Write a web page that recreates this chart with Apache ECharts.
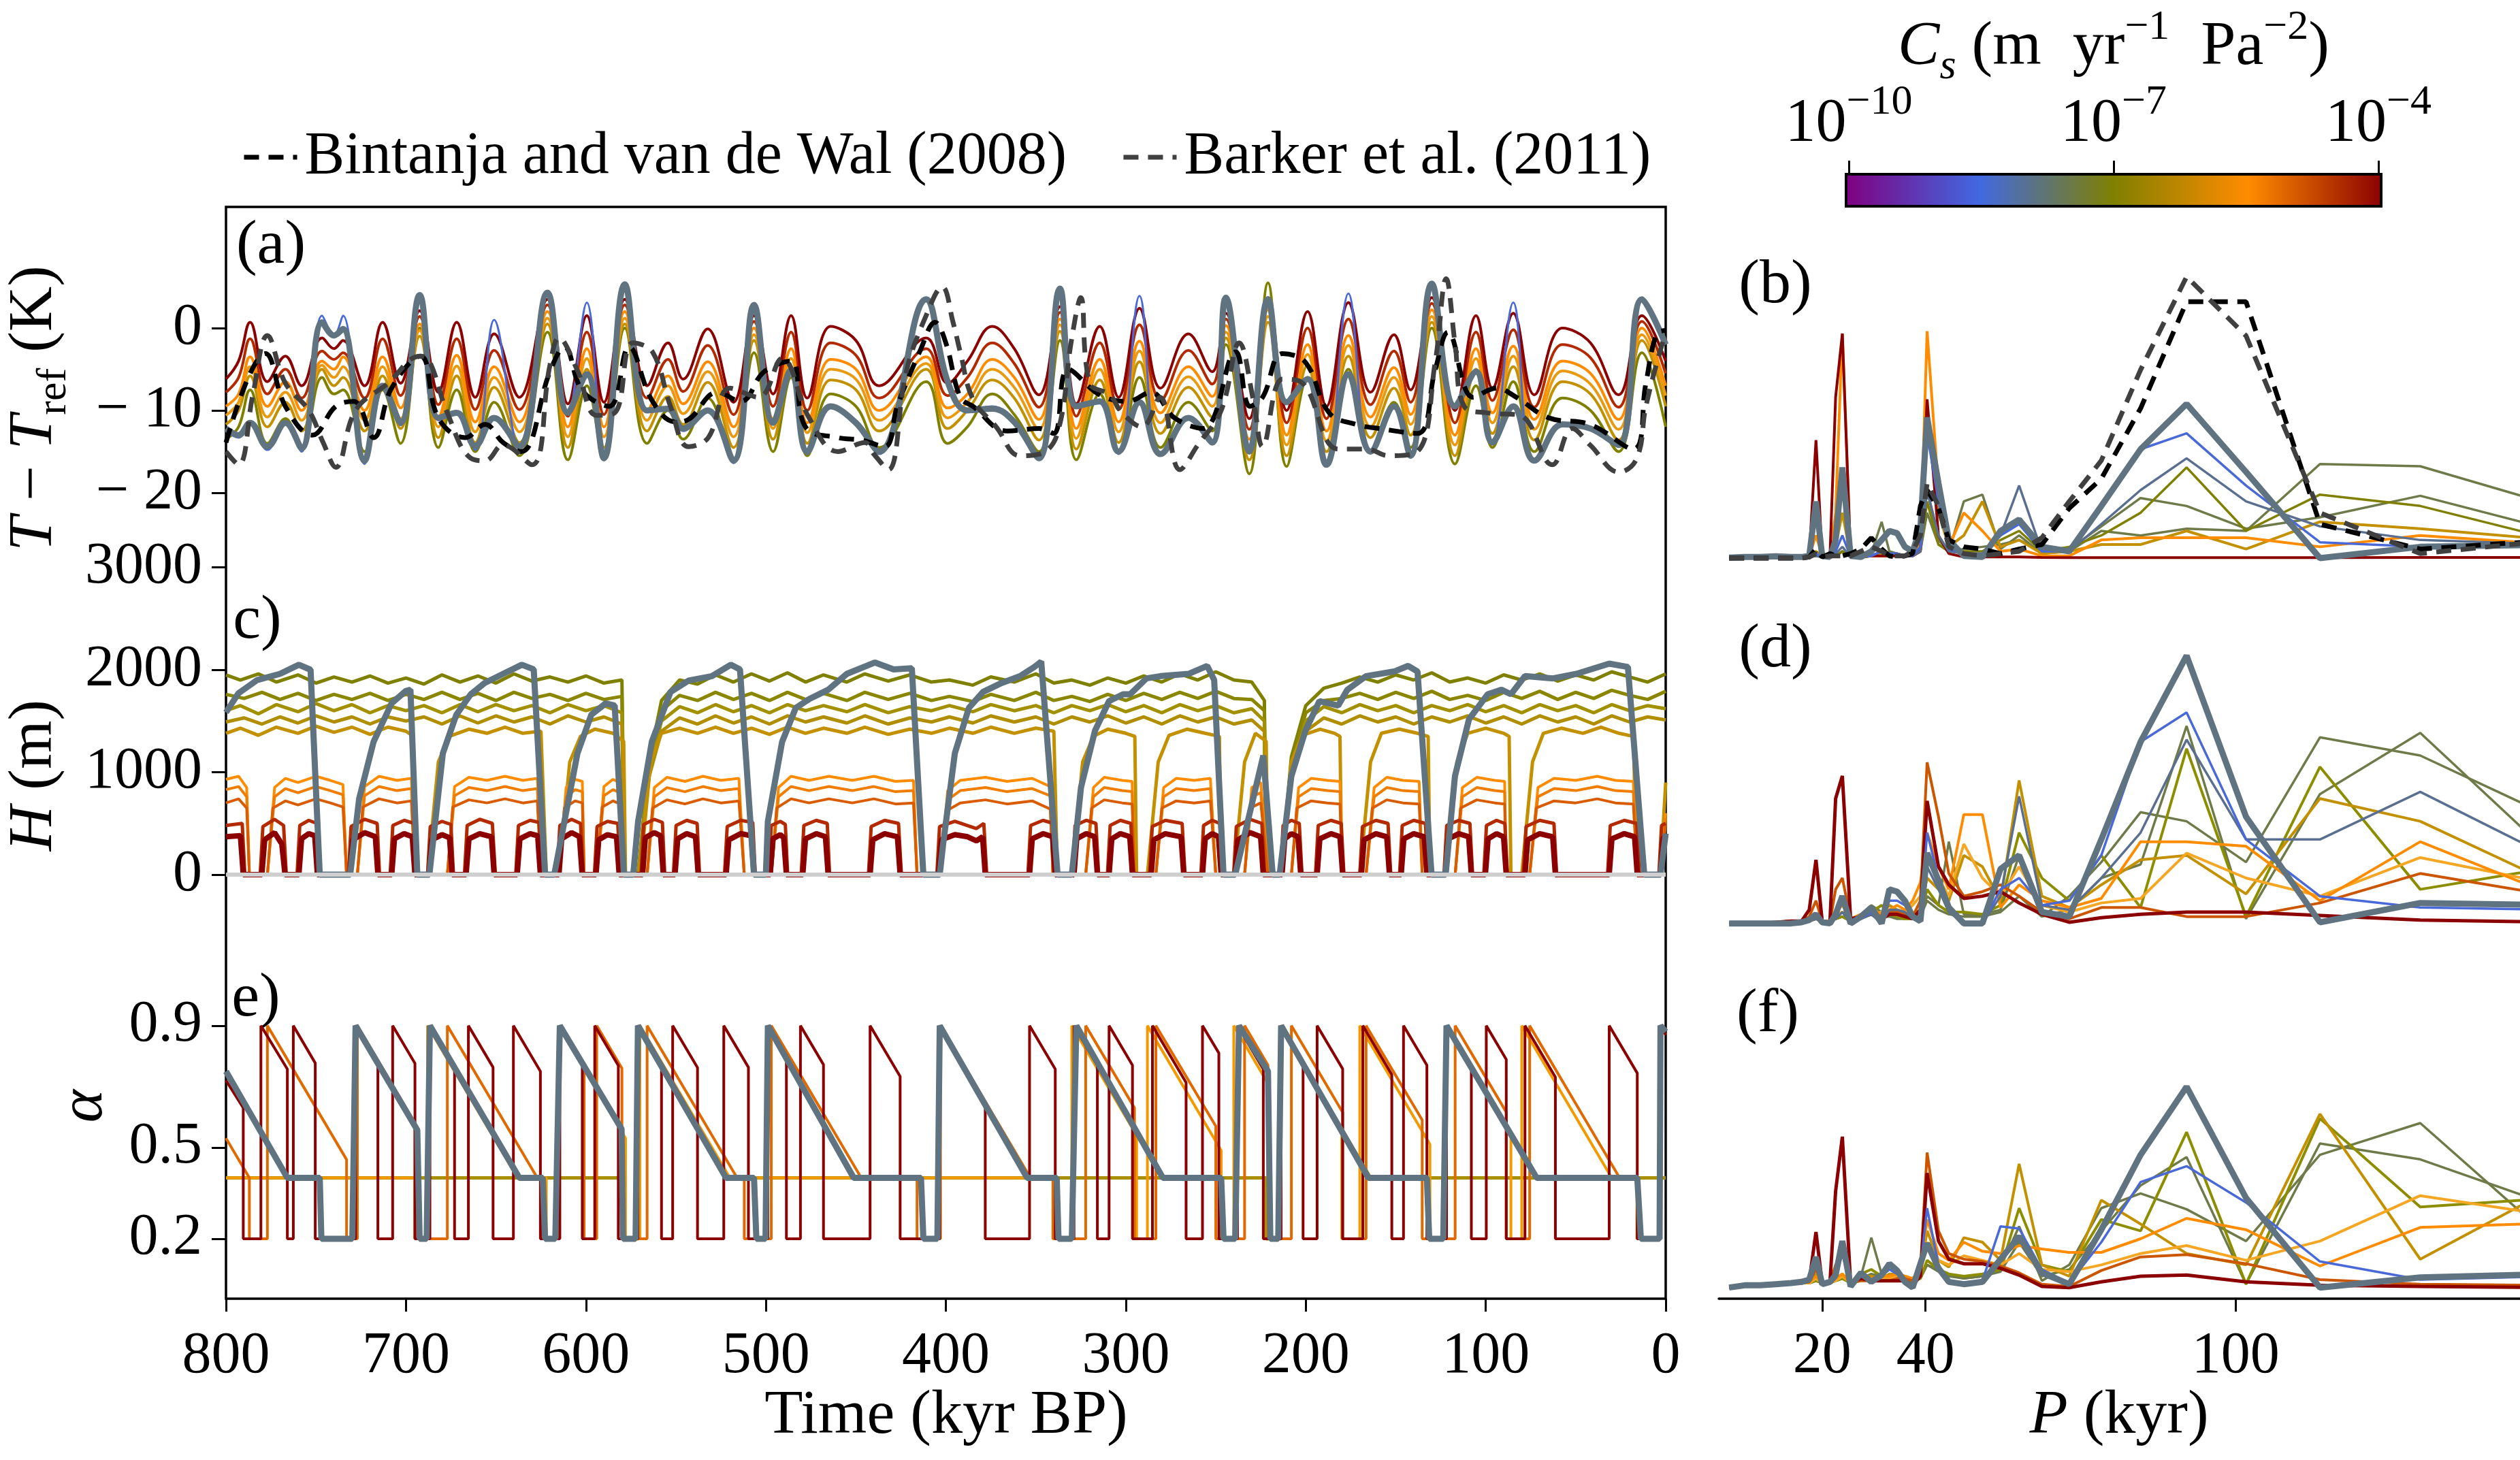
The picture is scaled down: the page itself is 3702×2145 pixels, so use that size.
<!DOCTYPE html>
<html>
<head>
<meta charset="utf-8">
<title>Ice sheet model ensemble</title>
<script src="https://cdn.jsdelivr.net/npm/echarts@6/dist/echarts.min.js"></script>
<style>
  html, body { margin: 0; padding: 0; background: #fff; }
  #chart { width: 3702px; height: 2145px; }
</style>
</head>
<body>
<div id="chart"></div>
<script>
// ---------- panel (a): temperature anomaly, kyr BP ----------
var timeA = [800,793,786.6,777,767,758,746.6,740,735,723, 713,703,692.4,682,671.8,661.5,651,637,621.4,610,
  599.5,590,578.4,566,554.4,546,532.4,518,506.6,496, 486,477,464,450,437,411,399,388,374.2,362,
  348.3,336.6,327.5,314.5,304,292.4,280.7,265.2,252,244.4, 231.4,221,210.6,199,188.5,176.3,164,151,141.8,130,
  117.1,105.4,96.3,84.7,73,57.4,41.8,26.2,13.2,0];
var tempDarkred = [-6.2,-4,0.7,-6.5,-3.4,-7,-1.2,-2.5,-1.5,-7, 0.7,-6.7,2.1,-7.8,0.7,-8.4,-0.7,-8.4,3.5,-9.2,
  1.5,-9,3.5,-7,-1.8,-6.2,-0.1,-9,1.5,-8, 1.5,-8.5,0.2,-1.5,-7,-1.2,-6.7,-4,0.2,-2.5,
  -8.1,2.6,-9.2,0.2,-8.4,2.4,-7.3,-0.7,-5.3,1.8, -11,3.7,-10,2,-9.5,3.1,-7.8,-0.8,-7.5,3.7,
  -10,1.5,-7.3,1.8,-8.1,0,-1.8,-8.1,1.5,-4];
var tempRed = [-7.8,-6,-1.3,-8,-5,-8.5,-2.8,-3.8,-3,-8.5, -1.3,-8.2,1.4,-9.3,-1.3,-9.9,-2.7,-9.9,2.8,-10.7,
  -0.5,-10.5,2.8,-8.5,-3.8,-7.7,-2.1,-10.5,0.8,-9.5, -0.5,-10,-1.8,-3.3,-8.5,-2.5,-8.2,-6,-1.8,-4.3,
  -9.6,1.9,-10.7,-1.8,-9.9,0.4,-8.8,-2.7,-6.8,1.1, -12.3,3,-11.5,0,-11,1.1,-9.3,-2.8,-9,3,
  -11.5,-0.5,-8.8,-0.2,-9.6,-2,-3.6,-9.6,0.8,-5.5];
var tempOrange = [-9.5,-8,-3.5,-9.5,-6.5,-10,-4,-5,-3.5,-10, -3.5,-9.7,0.5,-10.8,-3.3,-11.4,-4.7,-11.4,2,-12,
  -2.5,-12,2,-10,-5.8,-9.2,-4.1,-12,0,-11, -2.5,-11.5,-3.8,-5,-10,-3.5,-9.7,-8,-3.8,-6,
  -11.1,1.1,-12.2,-3.8,-11.4,-1.6,-10.3,-4.7,-8.3,0.3, -13.5,2.2,-13,-2,-12.5,-0.9,-10.8,-4.8,-10.5,2.2,
  -13,-2.5,-10.3,-2.2,-11.1,-4,-5.5,-11.1,0,-7];
var tempLightOrange = [-10.6,-9,-4.7,-10.8,-7.8,-11.2,-4.5,-6,-4.7,-11.2, -4.7,-11,-0.3,-12,-4.6,-12.6,-6,-12.6,1.2,-13.2,
  -3.7,-13.2,1.2,-11.2,-7,-10.4,-5.3,-13.2,-0.8,-12.2, -3.7,-12.7,-5,-6.2,-11.2,-4.3,-10.9,-9,-5,-7.2,
  -12.3,0.4,-13.4,-5,-12.6,-2.8,-11.5,-5.9,-9.5,-0.5, -14.7,1.4,-14.2,-3.2,-13.7,-2.1,-12,-6,-11.7,1.4,
  -14.2,-3.7,-11.5,-3.4,-12.3,-5.2,-6.8,-12.3,-0.8,-8.2];
var tempGold = [-11.7,-10,-5.8,-12,-9,-12.5,-5,-7,-6,-12.5, -5.8,-12.2,-1,-13.3,-5.8,-13.9,-7.2,-13.9,0.5,-14.5,
  -5,-14.5,0.5,-12.5,-8.3,-11.7,-6.6,-14.5,-1.5,-13.5, -5,-14,-6.3,-7.5,-12.5,-5,-12.2,-10,-6.3,-8.5,
  -13.6,-0.4,-14.7,-6.3,-13.9,-4.1,-12.8,-7.2,-10.8,-1.2, -16,0.7,-15.5,-4.5,-15,-3.4,-13.3,-7.3,-13,0.7,
  -15.5,-5,-12.8,-4.7,-13.6,-6.5,-8,-13.6,-1.5,-9.5];
var tempOlive = [-13.5,-12,-7.5,-14,-11,-14.5,-6,-8,-7.5,-15, -7.5,-14,0,-14.5,-7.5,-15,-9,-15.5,-0.5,-16,
  -7,-16,0,-14,-10,-13.5,-8.5,-16,-3,-15, -6,-15.5,-8,-9.5,-14.5,-6.5,-14,-12,-8,-10.5,
  -15,-1.5,-16,-8,-15,-6,-14.5,-9,-12.5,-2, -17.7,5.5,-16.8,-6,-16.5,-5,-15,-9,-14.5,0,
  -16.5,-7,-14.5,-6.5,-15,-8.5,-10,-15,-3,-12];
var tempBlue = [-12.5,-13.3,-11.5,-14.8,-11.5,-15,1.5,-0.9,1.5,-16.5, -7,-11.8,4.2,-11.2,-10.3,-14.8,1,-14.6,4.4,-10.5,
  3.1,-16,5.3,-10,-9.8,-12.5,-10,-16.4,2.9,-11.7, -5,-15.3,-9.5,-11.5,-15.3,3.6,-6.5,-10,-9.5,-11.4,
  -16,4.9,-9.5,-8.9,-15.3,3.9,-15.5,-10.9,-14,3.8, -15.2,3.5,-9,-6.2,-16.8,4.2,-15.2,-9.5,-15.7,5.5,
  -9.5,-5.3,-14,3.1,-16.3,-11.7,-12.2,-14.4,3.6,-2];
var tempGrey = [-12.2,-13,-11.5,-14.4,-11.5,-14.6,0.7,-0.9,-0.1,-16.1, -7,-11.5,4,-10.9,-10.3,-14.3,-10.9,-14.4,4.3,-10.3,
  -5.6,-15.8,5.3,-10,-9.8,-12.2,-10,-16.1,2.8,-11.5, -5.1,-15,-9.5,-11.5,-15,3.5,-6.5,-10,-9.8,-11.4,
  -15.8,4.8,-9.5,-8.9,-15,-9,-15.3,-10.9,-13.9,3.7, -15,3.5,-9,-6.2,-16.6,-5.6,-15,-9.5,-15.5,5.4,
  -9.5,-5.3,-13.9,-9.5,-16.1,-11.7,-12.2,-14.2,3.5,-2];

var bwTime = [800,778,767,752,739,729,718,708,692,682, 667,656,646,636,620,612,602,587,576,563,
  550,543,527,514,501,486,478,460,447,434, 427,414,406,400,392,385,366,348,340,332,
  314.5,299,286,273,257,239,231,224,213,200, 187,172,159,138,128,121,107,94,83,65, 42,18,11,5,0];
var bwTemp = [-13.9,-3.1,-9.5,-13,-9.5,-8.9,-13.3,-7.3,-3.4,-10.9, -13.3,-11.7,-13.9,-15,-5.3,-2.3,-7.6,-9.5,-2.3,-8.9,
  -11.4,-11.1,-7.8,-8.9,-5.3,-4,-12,-13.3,-13.6,-14.4, -9.5,-2.6,0.7,-1.8,-8.4,-9.5,-12.5,-12.2,-12.8,-5,
  -8.1,-8.9,-7.8,-10.9,-12.2,-2.9,-9.5,-8.4,-3.1,-4.2, -10.3,-11.7,-12.2,-12.8,-5,-0.5,-8.4,-7.3,-8.4,-10.9,
  -11.7,-14.7,-6.7,-0.7,-0.3];
var barkerTime = [800,793,785,777,767,754,746,739,728,710, 692,687,677,664,656,646,630,620,615,605,
  594,584,574,563,553,543,532,520,504,491, 476,460,445,440,432,422,411,402,396,392,
  385,372,359,348,338,330,325,320,309,302, 291,281,270,260,247,237,229,224,213,203,
  182,166,154,138,128,122,117,112,99,81, 63,52,42,26,16,11,1,0];
var barkerTemp = [-15,-16.6,-8,-0.9,-6.7,-10,-13.9,-16.9,-10,-6.7, -3.4,-4,-10.3,-15.8,-16.1,-14.2,-16.6,-4.5,-1.2,-5,
  -10.6,-10.3,-1.8,-2.9,-9.5,-14.4,-13.3,-7.3,-8.4,-3.7, -10.9,-15,-13.9,-15.3,-17.2,-5.3,1.5,5,0.7,-2.9,
  -8.6,-12,-15.5,-15.3,-12.8,-1.2,3.7,-6.7,-8.1,-10.3, -12,-8.4,-17.2,-14.2,-10,-1.8,-8.9,-14.4,-6.2,-6.5,
  -14.7,-14.7,-15.5,-15,-4,6,-2,-9.5,-10.3,-10.6, -16.6,-12.2,-14.2,-17.5,-15.8,-9.5,-1.2,-1];

// ---------- panel (c): ice thickness [kyr BP, m] ----------
var iceDarkred = [[800,370],[792,380],[790.4,0],[780.1,0],[778.5,340],[773,410],[769,300],[767.2,0],
  [759.5,0],[758,350],[754,400],[750.7,380],[749.2,0],[731.1,0],[729.5,340],[723,410],[717,370],[715.6,0],
  [707.9,0],[706.4,350],[701,400],[696.5,370],[695,0],[687.2,0],[685.7,340],[680,390],[675.8,360],[674.3,0],
  [666.6,0],[665,350],[659,400],[652.5,370],[651,0],[638.2,0],[636.7,350],[631,400],[626.8,380],[625.3,0],
  [615,0],[613.5,350],[608,410],[603.6,370],[602.1,0],[594.4,0],[592.9,340],[588,390],[583,370],[581.5,0],
  [568.5,0],[567,360],[562,410],[558.5,380],[557,0],[550.5,0],[549,350],[544,400],[539.1,370],[537.6,0],
  [522.1,0],[520.6,340],[514,400],[508.1,380],[506.6,0],[497.6,0],[496.1,350],[492,390],[490.1,360],[488.6,0],
  [479.5,0],[478,350],[472,400],[466.9,370],[465.4,0],[442.1,0],[440.6,340],[434,400],[426.9,370],[425.4,0],
  [404,0],[402.5,340],[395,390],[388,370],[383,330],[379.6,370],[378.1,0],
  [353.5,0],[352,350],[346,400],[340.7,370],[339.2,0],[328.8,0],[327.3,350],[322,400],[317.3,370],[315.8,0],
  [309.3,0],[307.8,350],[303,400],[297.8,370],[296.3,0],[285.9,0],[284.4,340],[278,400],[269.3,370],[267.8,0],
  [257.4,0],[255.9,350],[252,400],[248.5,370],[247,0],[239.2,0],[237.7,340],[231,410],[225.1,370],[223.6,0],
  [213.2,0],[211.7,350],[208,400],[204.3,370],[202.8,0],[193.7,0],[192.2,350],[186,400],[181,370],[179.5,0],
  [169.1,0],[167.6,340],[161,400],[155,370],[153.5,0],[147,0],[145.5,350],[140,400],[134.2,370],[132.7,0],
  [122.3,0],[120.8,350],[115,400],[109.5,370],[108,0],[100.2,0],[98.7,350],[94,400],[90.1,370],[88.6,0],
  [78.2,0],[76.7,340],[70,400],[62.8,370],[61.3,0],[31.4,0],[29.9,350],[23,400],[17.3,370],[15.8,0],
  [2.9,0],[1.4,350],[0,380]];
var iceRed = [[800,480],[791,500],[789.5,0],[781,0],[779.5,470],[773,540],[768,480],[766.5,0],
  [760.5,0],[759,480],[754,530],[749.5,500],[748.2,0],[732,0],[730.5,470],[723,540],[716,500],[714.7,0],
  [708.8,0],[707.3,480],[701,530],[695.5,500],[694.2,0],[688,0],[686.5,470],[680,520],[675,490],[673.6,0],
  [667.5,0],[666,480],[659,540],[652,500],[650.3,0],[639,0],[637.5,480],[631,530],[626,510],[624.6,0],
  [616,0],[614.5,480],[608,540],[603,500],[601.5,0],[595.3,0],[593.8,470],[588,520],[582.3,500],[580.8,0],
  [569.4,0],[567.9,490],[562,540],[557.5,510],[556.2,0],[551.4,0],[549.9,480],[544,530],[538.2,500],[536.9,0],
  [523,0],[521.5,470],[514,530],[507.3,510],[505.9,0],[498.5,0],[497,480],[492,520],[489.2,490],[487.9,0],
  [480.4,0],[478.9,480],[472,530],[465.9,500],[464.6,0],[443,0],[441.5,470],[434,530],[426.3,500],[424.7,0],
  [405,0],[403.5,470],[395,520],[383,450],[378.9,500],[377.3,0],
  [354.4,0],[352.9,480],[346,530],[340.2,500],[338.5,0],[329.7,0],[328.2,480],[322,530],[316.6,500],[315.1,0],
  [310.2,0],[308.7,480],[303,530],[297.2,500],[295.6,0],[286.8,0],[285.3,470],[278,530],[268.7,500],[267.1,0],
  [258.3,0],[256.8,480],[252,530],[247.8,500],[246.3,0],[240.1,0],[238.6,470],[231,540],[224.4,500],[222.9,0],
  [214.1,0],[212.6,480],[208,530],[203.6,500],[202.1,0],[194.6,0],[193.1,480],[186,530],[180.3,500],[178.8,0],
  [170,0],[168.5,470],[161,530],[154.3,500],[152.8,0],[147.9,0],[146.4,480],[140,530],[133.5,500],[132,0],
  [123.2,0],[121.7,480],[115,530],[108.8,500],[107.3,0],[101.1,0],[99.6,480],[94,530],[89.4,500],[87.9,0],
  [79.1,0],[77.6,470],[70,530],[62.1,500],[60.6,0],[32.3,0],[30.8,480],[23,530],[16.1,500],[14.6,0],
  [3.8,0],[2.3,480],[0,500]];
var iceDarkorange = [[800,700],[793,740],[788.5,650],[787,0],[777,0],[774,650],[767,720],[760,680],[750,740],[742,700],[735,660],[733,0],
  [727,0],[724,660],[715,740],[705,700],[697,720],[695,0],[677,0],[674,660],[665,730],[655,700],[645,740],[635,700],[627,720],[625,0],
  [615,0],[612,650],[606,720],[602,700],[601,0],[594,0],[591,660],[585,720],[581,690],[580,0],
  [566,0],[563,650],[555,730],[545,690],[535,740],[525,700],[515,720],[512,0],
  [497,0],[494,650],[486,740],[476,700],[465,740],[452,700],[440,740],[428,690],[418,700],[416,0],
  [403,0],[400,620],[392,700],[378,730],[366,690],[352,720],[342,640],[340.5,0],
  [322.3,0],[319,650],[312,730],[302,700],[296.5,690],[295.2,0],[283.3,0],[280,650],[272,720],[262,700],[253,720],[250,0],
  [234,0],[231,650],[225,700],[221,0],[208,0],[205,650],[197,720],[188,700],[181,690],[179.5,0],
  [166.5,0],[163,650],[155,730],[146,700],[137,690],[135.3,0],[117,0],[114,650],[105,730],[95,700],[89.5,690],[88.6,0],
  [75.6,0],[72,650],[62,720],[50,700],[38,740],[28,700],[18,690],[15.8,0],[2.9,0],[0,500]];
var iceOrange2 = [[800,830],[793,860],[788.5,760],[787,0],[777,0],[773,760],[767,840],[760,800],[750,860],[742,820],[735,780],[733,0],
  [727,0],[723,770],[715,860],[705,820],[697,840],[695,0],[677,0],[673,770],[665,850],[655,820],[645,860],[635,820],[627,840],[625,0],
  [615,0],[611,760],[606,830],[602,810],[601,0],[594,0],[590,770],[585,830],[581,800],[580,0],
  [566,0],[562,760],[555,850],[545,810],[535,860],[525,820],[515,840],[512,0],
  [497,0],[493,760],[486,860],[476,820],[465,860],[452,820],[440,860],[428,810],[418,820],[416,0],
  [403,0],[399,730],[392,820],[378,850],[366,810],[352,840],[342,770],[340.5,0],
  [322.3,0],[318,760],[312,850],[302,820],[296.5,810],[295.2,0],[283.3,0],[279,760],[272,840],[262,820],[253,840],[250,0],
  [234,0],[230,760],[225,800],[221,0],[208,0],[204,760],[197,840],[188,820],[181,810],[179.5,0],
  [166.5,0],[162,760],[155,850],[146,820],[137,810],[135.3,0],[117,0],[113,760],[105,850],[95,820],[89.5,810],[88.6,0],
  [75.6,0],[71,760],[62,840],[50,820],[38,860],[28,820],[18,810],[15.8,0],[2.9,0],[0,550]];
var iceOrange = [[800,930],[793,960],[788.5,850],[787,0],[777,0],[773,850],[767,940],[760,900],[750,960],[742,920],[735,880],[733,0],
  [727,0],[723,860],[715,960],[705,920],[697,940],[695,0],[677,0],[673,860],[665,950],[655,920],[645,960],[635,920],[627,940],[625,0],
  [615,0],[611,850],[606,930],[602,910],[601,0],[594,0],[590,860],[585,930],[581,900],[580,0],
  [566,0],[562,850],[555,950],[545,910],[535,960],[525,920],[515,940],[512,0],
  [497,0],[493,850],[486,960],[476,920],[465,960],[452,920],[440,960],[428,910],[418,920],[416,0],
  [403,0],[399,820],[392,920],[378,950],[366,910],[352,940],[342,860],[340.5,0],
  [322.3,0],[318,850],[312,950],[302,920],[296.5,910],[295.2,0],[283.3,0],[279,850],[272,940],[262,920],[253,940],[250,0],
  [234,0],[230,850],[225,900],[221,0],[208,0],[204,850],[197,940],[188,920],[181,910],[179.5,0],
  [166.5,0],[162,850],[155,950],[146,920],[137,910],[135.3,0],[117,0],[113,850],[105,950],[95,920],[89.5,910],[88.6,0],
  [75.6,0],[71,850],[62,940],[50,920],[38,960],[28,920],[18,910],[15.8,0],[2.9,0],[0,600]];
var iceGold = [[800,1380],[792,1430],[782,1360],[772,1440],[760,1380],[750,1450],[740,1390],[730,1440],[720,1370],[710,1440],[700,1400],[696,1350],[695,0],
  [688,0],[682,1100],[676,1350],[665,1420],[655,1380],[645,1440],[635,1380],[625,1400],[622,0],
  [615,0],[609,1100],[603,1350],[595,1420],[585,1380],[579,1300],[578,0],
  [570,0],[564,1100],[558,1380],[548,1430],[538,1380],[528,1440],[518,1380],[508,1430],[498,1370],[488,1440],[478,1380],[468,1430],
  [455,1380],[445,1440],[432,1370],[420,1420],[408,1380],[398,1430],[385,1380],[375,1440],[362,1380],[350,1430],[340,1400],[338,0],
  [330,0],[324,1100],[318,1350],[310,1420],[300,1380],[295,1350],[294,0],[288,0],[282,1100],[276,1360],[266,1420],[256,1380],[248,1350],[247,0],
  [240,0],[234,1100],[228,1380],[222,1300],[221,0],[214,0],[208,1100],[202,1360],[192,1420],[184,1380],[181,1350],[180,0],
  [170,0],[164,1100],[158,1380],[148,1420],[138,1380],[132,1350],[131,0],[122,0],[116,1100],[110,1380],[100,1430],[90,1380],[87,1350],[86,0],
  [80,0],[74,1100],[68,1380],[58,1430],[46,1380],[36,1440],[26,1380],[18,1350],[16,0],[3,0],[0,900]];
var iceGold2 = [[800,1490],[790,1530],[780,1470],[770,1540],[760,1480],[750,1550],[740,1490],[730,1540],[720,1470],[710,1540],
  [700,1500],[690,1540],[680,1470],[670,1550],[660,1480],[650,1550],[640,1490],[630,1540],[620,1470],[610,1550],[600,1490],[590,1540],[580,1470],[578.5,0],
  [571,0],[565,950],[558,1400],[548,1530],[538,1470],[528,1550],[518,1480],[508,1540],[498,1470],[488,1550],[478,1490],[468,1540],
  [455,1480],[445,1550],[432,1470],[420,1530],[408,1490],[398,1540],[385,1480],[375,1550],[362,1490],[350,1540],[340,1470],[330,1540],
  [320,1490],[310,1550],[300,1480],[290,1540],[280,1470],[270,1550],[260,1490],[250,1540],[240,1470],[230,1510],[223,1400],[222,0],
  [214,0],[208,950],[200,1400],[190,1530],[180,1470],[170,1550],[160,1490],[150,1540],[140,1470],[130,1540],[120,1490],[110,1550],
  [100,1480],[90,1540],[80,1470],[70,1550],[60,1490],[50,1540],[40,1470],[30,1550],[20,1490],[10,1540],[0,1510]];
var iceOliveGold = [[800,1600],[792,1650],[782,1570],[772,1660],[760,1590],[750,1670],[740,1600],[730,1660],[720,1580],[710,1650],
  [700,1600],[690,1650],[680,1580],[670,1660],[660,1590],[650,1660],[640,1600],[630,1650],[620,1580],[610,1660],[600,1600],[590,1650],[580,1580],[578.5,0],
  [571,0],[565,1000],[558,1500],[548,1640],[538,1580],[528,1660],[518,1590],[508,1650],[498,1580],[488,1660],[478,1600],[468,1650],
  [455,1590],[445,1660],[432,1580],[420,1640],[408,1600],[398,1650],[385,1590],[375,1660],[362,1600],[350,1650],[340,1580],[330,1650],
  [320,1600],[310,1660],[300,1590],[290,1650],[280,1580],[270,1660],[260,1600],[250,1650],[240,1580],[230,1620],[223,1500],[222,0],
  [214,0],[208,1000],[200,1500],[190,1640],[180,1580],[170,1660],[160,1600],[150,1650],[140,1580],[130,1650],[120,1600],[110,1660],
  [100,1590],[90,1650],[80,1580],[70,1660],[60,1600],[50,1650],[40,1580],[30,1660],[20,1600],[10,1650],[0,1620]];
var iceOlive2 = [[800,1760],[790,1720],[780,1780],[770,1710],[760,1770],[750,1700],[740,1760],[730,1710],[720,1770],[710,1700],
  [700,1760],[690,1710],[680,1780],[670,1710],[660,1770],[650,1700],[640,1780],[630,1720],[620,1760],[610,1700],[600,1770],[590,1710],[580,1740],[578.5,0],
  [571,0],[565,1050],[558,1600],[548,1750],[538,1700],[528,1780],[518,1710],[508,1770],[498,1700],[488,1780],[478,1710],[468,1770],
  [455,1700],[445,1780],[432,1710],[420,1770],[408,1700],[398,1740],[385,1690],[375,1760],[362,1700],[350,1780],[340,1700],[330,1740],
  [320,1690],[310,1760],[300,1700],[290,1770],[280,1710],[270,1780],[260,1720],[250,1790],[240,1720],[230,1710],[223,1600],[222,0],
  [214,0],[208,1080],[200,1580],[190,1700],[180,1720],[170,1770],[160,1710],[150,1780],[140,1720],[130,1790],[120,1710],[110,1750],
  [100,1700],[90,1780],[80,1720],[70,1790],[60,1710],[50,1780],[40,1720],[30,1800],[20,1750],[10,1710],[0,1790]];
var iceOlive = [[800,1950],[792,1900],[782,1960],[772,1880],[760,1950],[750,1870],[740,1930],[730,1880],[720,1940],[710,1870],
  [700,1920],[690,1860],[680,1950],[670,1880],[660,1940],[650,1870],[640,1960],[630,1890],[620,1930],[610,1880],[600,1940],[590,1870],[580,1900],[578.5,0],
  [571,0],[565,1100],[558,1700],[548,1900],[538,1860],[528,1950],[518,1880],[508,1960],[498,1890],[488,1970],[478,1880],[468,1950],
  [455,1880],[445,1960],[432,1890],[420,1950],[408,1880],[398,1900],[385,1850],[375,1930],[362,1880],[350,1960],[340,1870],[330,1900],
  [320,1850],[310,1920],[300,1870],[290,1940],[280,1880],[270,1960],[260,1900],[250,1980],[240,1900],[230,1880],[223,1700],[222,0],
  [214,0],[208,1150],[200,1650],[190,1820],[180,1870],[170,1930],[160,1880],[150,1950],[140,1900],[130,1970],[120,1880],[110,1920],
  [100,1870],[90,1950],[80,1900],[70,1960],[60,1890],[50,1950],[40,1900],[30,1980],[20,1930],[10,1880],[0,1960]];
var iceGrey = [[800,1584],[793,1772],[782.7,1900],[770,1960],[759.5,2049],[753,2000],[747.9,0],[731,0],[726,742],[718,1296],
  [708,1672],[700,1794],[697.5,1805],[693.7,0],[687,0],[679.5,1185],[672,1561],[664,1761],[656.3,1871],[646,1960],[635.6,2049],[629,2004],[622.7,0],
  [617.6,0],[604.7,1185],[597,1561],[589,1672],[584,1650],[578.9,0],[573.7,0],[571,520],[563.4,1296],[553,1783],[543,1894],[530,1938],
  [519.5,2049],[514.4,2004],[506.6,0],[500,0],[498.9,520],[491,1296],[483.4,1628],[475.7,1716],[465.4,1805],[455,1960],[439.5,2071],
  [429,2004],[418.9,2015],[412.5,0],[403.4,0],[401.5,300],[395,1185],[387.2,1628],[379.4,1783],[369,1871],[358.7,1938],[350.9,2027],
  [347,2080],[337.9,0],[330,0],[324.9,852],[317.1,1406],[309.3,1694],[301.5,1761],[297.6,1761],[288.5,1916],[280.7,1938],[265.2,1960],
  [254.8,2038],[250.9,1900],[245.7,0],[239.2,0],[223.6,1163],[218.4,0],[214.5,0],[208,963],[200.2,1406],[192.4,1694],[182,1650],
  [176.9,1805],[166.5,1938],[150.9,1983],[143.1,2038],[137.9,1983],[130.1,0],[122.3,0],[117.1,963],[109.3,1517],[98.9,1761],
  [91.2,1805],[86,1761],[78.2,1938],[62.6,1916],[49.6,1960],[31.4,2060],[21,2027],[11.9,0],[2.9,0],[0,400]];

// ---------- panel (e): alpha [kyr BP, -] ----------
var albedoOliveFlat = [[800,0.4],[578.5,0.4],[578.5,0.2],[571,0.2],[571,0.9],[521,0.4],[222,0.4],[222,0.2],[214,0.2],[214,0.9],[164,0.4],[0,0.4]];
var albedoGold = [[800,0.4],[695,0.4],[695,0.2],[688,0.2],[688,0.9],[638,0.4],[622,0.4],[622,0.2],[615,0.2],[615,0.9],[578,0.53],[578,0.2],
  [570,0.2],[570,0.9],[520,0.4],[338,0.4],[338,0.2],[330,0.2],[330,0.9],[294,0.54],[294,0.2],[288,0.2],[288,0.9],[247,0.49],[247,0.2],
  [240,0.2],[240,0.9],[221,0.71],[221,0.2],[214,0.2],[214,0.9],[180,0.56],[180,0.2],[170,0.2],[170,0.9],[131,0.51],[131,0.2],
  [122,0.2],[122,0.9],[86,0.54],[86,0.2],[80,0.2],[80,0.9],[30,0.4],[16,0.4],[16,0.2],[3,0.2],[3,0.9],[0,0.87]];
var albedoOrange = [[800,0.53],[787,0.4],[787,0.2],[777,0.2],[777,0.9],[733,0.46],[733,0.2],[727,0.2],[727,0.9],[695,0.58],[695,0.2],
  [677,0.2],[677,0.9],[627,0.4],[625,0.4],[625,0.2],[615,0.2],[615,0.9],[601,0.76],[601,0.2],[594,0.2],[594,0.9],[580,0.76],[580,0.2],
  [566,0.2],[566,0.9],[516,0.4],[512,0.4],[512,0.2],[497,0.2],[497,0.9],[447,0.4],[416,0.4],[416,0.2],[403,0.2],[403,0.9],[353,0.4],
  [340.5,0.4],[340.5,0.2],[322.3,0.2],[322.3,0.9],[295.2,0.63],[295.2,0.2],[283.3,0.2],[283.3,0.9],[250,0.57],[250,0.2],
  [234,0.2],[234,0.9],[221,0.77],[221,0.2],[208,0.2],[208,0.9],[179.5,0.615],[179.5,0.2],[166.5,0.2],[166.5,0.9],[135.3,0.59],[135.3,0.2],
  [117,0.2],[117,0.9],[88.6,0.616],[88.6,0.2],[75.6,0.2],[75.6,0.9],[25.6,0.4],[15.8,0.4],[15.8,0.2],[2.9,0.2],[2.9,0.9],[0,0.87]];
var albedoDarkred = [[800,0.72],[790.4,0.63],[790.4,0.2],[780.6,0.2],[780.6,0.9],[765.9,0.757],[765.9,0.2],[762.6,0.2],[762.6,0.9],
  [750.4,0.777],[750.4,0.2],[728,0.2],[728,0.9],[715.6,0.776],[715.6,0.2],[707.4,0.2],[707.4,0.9],[695,0.776],[695,0.2],
  [686.7,0.2],[686.7,0.9],[673,0.763],[673,0.2],[665.3,0.2],[665.3,0.9],[651.6,0.763],[651.6,0.2],[640.3,0.2],[640.3,0.9],
  [625.3,0.75],[625.3,0.2],[614.5,0.2],[614.5,0.9],[602,0.775],[602,0.2],[595.1,0.2],[595.1,0.9],[582,0.769],[582,0.2],
  [571.1,0.2],[571.1,0.9],[558,0.769],[558,0.2],[551.8,0.2],[551.8,0.9],[538,0.762],[538,0.2],[523.4,0.2],[523.4,0.9],
  [509.7,0.763],[509.7,0.2],[498.9,0.2],[498.9,0.9],[488.6,0.797],[488.6,0.2],[480.8,0.2],[480.8,0.9],[468,0.772],[468,0.2],
  [442.1,0.2],[442.1,0.9],[425.4,0.733],[425.4,0.2],[403.4,0.2],[403.4,0.9],[378.1,0.647],[378.1,0.2],[353.5,0.2],[353.5,0.9],
  [339.2,0.757],[339.2,0.2],[328.8,0.2],[328.8,0.9],[315.8,0.77],[315.8,0.2],[309.3,0.2],[309.3,0.9],[296.3,0.77],[296.3,0.2],
  [285.2,0.2],[285.2,0.9],[266.5,0.713],[266.5,0.2],[257.4,0.2],[257.4,0.9],[248.3,0.81],[248.3,0.2],[237.9,0.2],[237.9,0.9],
  [223.6,0.757],[223.6,0.2],[213.7,0.2],[213.7,0.9],[201.5,0.778],[201.5,0.2],[193.7,0.2],[193.7,0.9],[179.5,0.758],[179.5,0.2],
  [168.3,0.2],[168.3,0.9],[152.2,0.739],[152.2,0.2],[145.7,0.2],[145.7,0.9],[132.7,0.77],[132.7,0.2],[121.8,0.2],[121.8,0.9],
  [108,0.762],[108,0.2],[99.7,0.2],[99.7,0.9],[88.6,0.789],[88.6,0.2],[78.2,0.2],[78.2,0.9],[61.3,0.731],[61.3,0.2],
  [31.4,0.2],[31.4,0.9],[15.8,0.744],[15.8,0.2],[2.9,0.2],[2.9,0.9],[0,0.87]];
var albedoGrey = [[800,0.75],[765.9,0.4],[747.9,0.4],[747,0.2],[729.8,0.2],[728,0.9],[693.7,0.557],[692.4,0.2],[688.5,0.2],[686.7,0.9],
  [637,0.4],[624,0.4],[622.7,0.2],[617,0.2],[614.5,0.9],[580.2,0.561],[579.4,0.2],[572.4,0.2],[571.1,0.9],[522.1,0.4],[506.6,0.4],
  [505.3,0.2],[500.2,0.2],[498.9,0.9],[451.2,0.4],[413.8,0.4],[412.5,0.2],[404.7,0.2],[403.4,0.9],[354.8,0.4],[338.4,0.4],[337.4,0.2],
  [330,0.2],[327.5,0.9],[279.4,0.4],[247,0.4],[245.7,0.2],[239.2,0.2],[237.1,0.9],[221,0.75],[219.7,0.2],[215.3,0.2],[213.7,0.9],
  [165.2,0.4],[132.7,0.4],[131.4,0.2],[123.6,0.2],[121.8,0.9],[71.7,0.4],[15.8,0.4],[13.8,0.2],[3.4,0.2],[2.9,0.9],[0,0.88]];

// ---------- spectra (b, d, f): period in kyr, power in arbitrary units ----------
var period = [2,5,8,11,14,16,17.5,18.8,20,21.5,22.6,23.9,25.5,27.5,29.5,31.5,33,34.5,36,37.5,39,40.3,42.5,44.5,47.4,51,54.5,58.1,62.5,67.8,74,81.6,90.5,102,116.3,135.7,162];

var specTGrey = [0.2,0.5,0.5,0.8,0.5,0.5,1,25,1,0.5,8,40,1,0.5,3,8,12,11,5,3,13,62,33,8,1,0.5,12,17,5,3,23,48,68,38,0,5,6];
var specTDarkred = [0.2,0.3,0.3,0.5,0.5,0.5,1,52,1,0.5,71,99,1,0.5,1,1,1,1,1,1,3,70,10,2,0.5,0.5,0.5,0.5,0.3,0.2,0.2,0.2,0.2,0.2,0.2,0.3,0.3];
var specTOrange = [0.2,0.3,0.3,0.5,0.5,0.5,1,10,1,0.5,20,99,1,0.5,1,1,1,1,1,1,5,100,30,5,20,12,3,4,1,1,8,9,9,9,5,10,6];
var specTGold = [0.2,0.3,0.3,0.5,0.5,0.5,1,3,1,0.5,5,20,1,0.5,1,2,1,2,1,1,8,60,20,5,10,25,5,8,2,3,6,6,12,4,16,13,8];
var specTOlive1 = [0.2,0.3,0.3,0.5,0.5,0.5,0.5,1,0.5,0.5,1,3,0.5,0.5,2,16,3,2,1,1,3,30,8,3,25,28,4,10,2,3,12,10,13,12,41.5,40.5,23];
var specTOlive2 = [0.2,0.3,0.3,0.5,0.5,0.5,0.5,1,0.5,0.5,1,3,0.5,0.5,1,3,2,2,1,1,3,20,6,3,4,5,6,8,3,4,14,26.5,23,13,18,27.5,12];
var specTOlive3 = [0.2,0.3,0.3,0.5,0.5,0.5,0.5,1,0.5,0.5,1,3,0.5,0.5,1,2,2,2,1,1,3,25,6,3,3,3,8,12,3,5,10,20,40,12,28,23,8];
var specTBlue = [0.2,0.3,0.3,0.5,0.5,0.5,0.5,2,0.5,0.5,3,10,0.5,0.5,1,3,2,2,1,1,5,55,25,4,2,1,10,15,3,3,23,48,55,32,7,5,6];
var specTSlate = [0.2,0.3,0.3,0.5,0.5,0.5,0.5,1,0.5,0.5,2,5,0.5,0.5,1,3,2,2,1,1,3,30,10,3,2,2,10,32,3,3,15,30,44,25,14,8,6];
var specTBw = [0,0,0,0,0,0,0.5,4,0.5,2,1,1,2,4,9,4,1,0.5,1,2,23,30,22,8,5,4,2,4,6,22,35,66,113,113,15,4,8];
var specTBarker = [0,0,0,0,0,0,0.5,2,0.5,1,1,1,1,3,5,3,1,1,1,3,10,33,23,5,2,1,2,3,9,25,43,83,124,98,20,2,8];

var specHGrey = [0,0,0,0,0,0.5,1.5,4,0.5,0,4,12,0,3,7,0,15,14,10,3,1,31,19,7,0,0,24,30,5,3,37,80,118,47,0.5,9,8];
var specHDarkred = [0,0,0,0.5,1,1,6,28,1,0.5,55,65,2,3,4,2,4,4,3,2,6,54,25,17,11,12,14,9,4,0.5,2.5,4,5,5,3.5,1.5,0.5];
var specHRed = [0,0,0,0.5,1,1,3,10,1,0.5,15,20,2,3,5,3,5,5,4,3,10,71,47,22,12,14,17,12,5,2,7,7,3,3,9,22,12];
var specHOrange = [0,0,0,0.5,1,1,2,4,1,1,5,8,2,4,6,4,6,8,6,10,18,40,25,15,48,48,7,17,10,7,11,36,36,34,10,36,12];
var specHOrange2 = [0,0,0,0.5,1,1,2,3,1,1,3,5,2,3,4,5,4,6,5,8,12,30,20,12,35,20,12,25,8,5,9,11,31,20,12,29,17];
var specHGold = [0,0,0,0.5,1,1,2,3,1,1,3,5,2,4,6,4,8,6,5,4,6,20,15,10,30,25,10,63,12,7,17,28,30,13,55,45,17];
var specHOlive1 = [0,0,0,0.5,1,1,1,2,1,1,2,3,1,3,5,8,4,3,2,2,3,15,8,5,5,4,8,40,20,10,30,7,77,3,69,15,25];
var specHOlive2 = [0,0,0,0.5,1,1,1,2,1,1,2,3,1,4,8,5,4,3,2,2,3,12,8,36,4,4,6,30,3,12,27,49,45,27,82,74,46];
var specHOlive3 = [0,0,0,0.5,1,1,1,2,1,1,2,3,1,2,4,3,3,2,2,2,3,10,6,4,3,3,5,12,3,6,20,26,87,2,57,84,28];
var specHBlue = [0,0,0,0,0,0.5,1,3,0.5,0,3,10,0,2,5,0,10,10,8,3,1,40,20,6,0,0,15,20,8,10,30,80,93,37,12,7,6];
var specHSlate = [0,0,0,0,0,0.5,1,2,0.5,0,2,5,0,2,4,0,6,6,5,2,1,25,15,5,0,0,12,56,8,6,20,40,81,37,37,58,28];

var specAGrey = [0,1,1,1.5,2,2.5,3.5,13.5,1.5,2.5,5.5,20.5,0.5,6.5,2.5,5.5,10.5,7.5,2.5,0,10.5,19.5,8.5,2.5,1.5,2.5,12.5,22.5,6.5,1.5,25.5,58.5,88.5,39.5,0,4.5,6];
var specADarkred = [0,1,1,1.5,2,2,3,24.5,2,2,42.5,66.5,2,4,3,3,3,3,3,1,5,50.5,20.5,12.5,10.5,10.5,8.5,5.5,0.5,0,2.5,5,5.5,2.5,1,0.5,0];
var specARed = [0,1,1,1.5,2,2,2.5,8,2,2,10,15,2,3,3,3,3,4,4,3,8,59.5,25,15,12.5,11.5,9.5,6.5,1.5,0.5,7.5,13.5,14.5,10.5,3.5,1.5,1];
var specAOrange = [0,1,1,1.5,2,2,2.5,5,2,2,4,6,2,4,4,5,5,6,5,4,8,30,15,12,20,16,15,18.5,17,15.5,15.5,21.5,30.5,25.5,9.5,26.5,28.5];
var specAOrange2 = [0,1,1,1.5,2,2,2,4,2,2,3,5,2,3,4,4,4,5,4,4,6,20,12,10,14,12,10,15,8,7,10,15,18.5,12,20.5,40.5,31.5];
var specAGold = [0,1,1,1.5,2,2,2.5,6,2,3,4,6,2,5,5,4,6,6,5,4,7,25,12,9,22,20,12,54.5,10,5,38.5,28,15,10,76.5,12.5,44.5];
var specAOlive1 = [0,0.5,1,1,1.5,2,2,3,2,2,3,4,2,6,8,5,4,3,3,3,4,12,8,6,5,6,8,35,10,7,30,25,68.5,1.5,74.5,35.5,39.5];
var specAOlive2 = [0,0.5,1,1,1.5,2,2,3,2,2,3,4,2,5,22,6,4,3,3,3,4,10,8,6,4,5,9,27,3,10,35,41.5,34.5,20.5,58.5,72.5,19.5];
var specAOlive3 = [0,0.5,1,1,1.5,2,2,3,2,2,3,4,2,4,6,5,4,3,3,3,4,10,7,5,4,5,7,20,5,8,25,45,57.5,1.5,63.5,56.5,35.5];
var specABlue = [0,1,1,1.5,2,2.5,3,10,1.5,2.5,4,15,0.5,5,2.5,5,8,6,2.5,0,8,35,10,3,2,3,27,26,8,2,20,46.5,53.5,37.5,11.5,3.5,5];

var timeRange = [0, 800];
var periodTicks = [20, 40, 100];
var csTicks = [-10, -7, -4];

// ---------- drawing ----------
var serif = '"Liberation Serif", "DejaVu Serif", serif';
var C = {
  darkred: '#8b0000', red: '#b42a00', dorange: '#da5c00', orange: '#ff8c00', orange2: '#f5a623', lorange: '#e99a10',
  gold: '#c39000', oliveGold: '#a39000', olive: '#808000', olive1: '#8d8d00', olive2: '#6e7a48',
  slate: '#5a6f90', blue: '#4a69d8', grey: '#5f7380'
};
function zip(xs, ys) { return xs.map(function (x, i) { return [x, ys[i]]; }); }
function line(data, color, width, idx, extra) {
  var s = {
    type: 'line', xAxisIndex: idx, yAxisIndex: idx, data: data, symbol: 'none', showSymbol: false,
    silent: true, animation: false, emphasis: { disabled: true },
    lineStyle: { color: color, width: width }, itemStyle: { color: color }
  };
  if (extra) for (var k in extra) s[k] = extra[k];
  return s;
}
var bwName = 'Bintanja and van de Wal (2008)';
var barkerName = 'Barker et al. (2011)';
var bwStyle = { color: '#000', width: 7, type: [22, 14] };
var barkerStyle = { color: '#404040', width: 7, type: [22, 14] };

var series = [];
// (a)
series.push(line(zip(timeA, tempOlive), C.olive, 4, 1, { smooth: 0.4 }));
series.push(line(zip(timeA, tempGold), C.gold, 4, 1, { smooth: 0.4 }));
series.push(line(zip(timeA, tempLightOrange), C.lorange, 4, 1, { smooth: 0.4 }));
series.push(line(zip(timeA, tempOrange), C.orange, 4, 1, { smooth: 0.4 }));
series.push(line(zip(timeA, tempRed), C.red, 4, 1, { smooth: 0.4 }));
series.push(line(zip(timeA, tempDarkred), C.darkred, 4, 1, { smooth: 0.4 }));
series.push(line(zip(timeA, tempBlue), C.blue, 3, 1, { smooth: 0.4 }));
series.push(line(zip(timeA, tempGrey), C.grey, 9, 1, { smooth: 0.4 }));
series.push(line(zip(bwTime, bwTemp), '#000', 7, 1, { name: bwName, smooth: 0.4, lineStyle: bwStyle }));
series.push(line(zip(barkerTime, barkerTemp), '#404040', 7, 1, { name: barkerName, smooth: 0.4, lineStyle: barkerStyle }));
// (c)
series.push(line(iceOlive, C.olive, 5, 2, {
  markLine: { silent: true, symbol: ['none', 'none'], label: { show: false }, animation: false,
    lineStyle: { color: '#cfcfcf', width: 6, type: 'solid' }, data: [{ yAxis: 0 }] }
}));
series.push(line(iceOlive2, '#8a8600', 5, 2));
series.push(line(iceOliveGold, C.oliveGold, 5, 2));
series.push(line(iceGold2, '#b08e00', 5, 2));
series.push(line(iceGold, C.gold, 5, 2));
series.push(line(iceOrange, C.orange, 4, 2));
series.push(line(iceOrange2, '#f07c00', 4, 2));
series.push(line(iceDarkorange, C.dorange, 4, 2));
series.push(line(iceRed, C.red, 5, 2));
series.push(line(iceDarkred, C.darkred, 8, 2));
series.push(line(iceGrey, C.grey, 9, 2));
// (e)
series.push(line(albedoOliveFlat, '#a89000', 5, 3));
series.push(line(albedoGold, '#f29a00', 4, 3));
series.push(line(albedoOrange, '#e06a00', 4, 3));
series.push(line(albedoDarkred, C.darkred, 4, 3));
series.push(line(albedoGrey, C.grey, 9, 3));
// (b)
series.push(line(zip(period, specTOlive1), C.olive2, 3.5, 4));
series.push(line(zip(period, specTOlive2), C.olive2, 3.5, 4));
series.push(line(zip(period, specTOlive3), C.olive, 3.5, 4));
series.push(line(zip(period, specTGold), C.gold, 4, 4));
series.push(line(zip(period, specTOrange), C.orange, 4, 4));
series.push(line(zip(period, specTDarkred), C.darkred, 4, 4));
series.push(line(zip(period, specTSlate), C.slate, 3.5, 4));
series.push(line(zip(period, specTBlue), C.blue, 3.5, 4));
series.push(line(zip(period, specTGrey), C.grey, 9, 4));
series.push(line(zip(period, specTBw), '#000', 7, 4, { name: bwName, lineStyle: bwStyle }));
series.push(line(zip(period, specTBarker), '#404040', 7, 4, { name: barkerName, lineStyle: barkerStyle }));
// (d)
series.push(line(zip(period, specHOlive2), C.olive2, 3.5, 5));
series.push(line(zip(period, specHOlive3), C.olive2, 3.5, 5));
series.push(line(zip(period, specHOlive1), C.olive1, 4, 5));
series.push(line(zip(period, specHGold), C.gold, 4, 5));
series.push(line(zip(period, specHOrange2), C.orange2, 4, 5));
series.push(line(zip(period, specHOrange), C.orange, 4, 5));
series.push(line(zip(period, specHRed), '#cc5500', 4, 5));
series.push(line(zip(period, specHDarkred), C.darkred, 5, 5));
series.push(line(zip(period, specHSlate), C.slate, 3.5, 5));
series.push(line(zip(period, specHBlue), C.blue, 3.5, 5));
series.push(line(zip(period, specHGrey), C.grey, 9, 5));
// (f)
series.push(line(zip(period, specAOlive2), C.olive2, 3.5, 6));
series.push(line(zip(period, specAOlive3), C.olive2, 3.5, 6));
series.push(line(zip(period, specAOlive1), C.olive1, 4, 6));
series.push(line(zip(period, specAGold), C.gold, 4, 6));
series.push(line(zip(period, specAOrange2), C.orange2, 4, 6));
series.push(line(zip(period, specAOrange), C.orange, 4, 6));
series.push(line(zip(period, specARed), '#cc5500', 4, 6));
series.push(line(zip(period, specADarkred), C.darkred, 5, 6));
series.push(line(zip(period, specABlue), C.blue, 3.5, 6));
series.push(line(zip(period, specAGrey), C.grey, 9, 6));

var tickStyle = { color: '#000', width: 3 };
var labelBase = { color: '#000', fontSize: 86, fontFamily: serif };
function hiddenAxis(idx, min, max, extra) {
  var a = { gridIndex: idx, type: 'value', min: min, max: max, show: false, splitLine: { show: false }, axisLine: { onZero: false } };
  if (extra) for (var k in extra) a[k] = extra[k];
  return a;
}
function leftAxis(idx, min, max, ticks, fmt) {
  return {
    gridIndex: idx, type: 'value', min: min, max: max, position: 'left',
    axisLine: { show: false, onZero: false }, splitLine: { show: false },
    axisTick: { show: true, customValues: ticks, length: 21, lineStyle: tickStyle },
    axisLabel: Object.assign({ customValues: ticks, margin: 35, formatter: fmt }, labelBase)
  };
}
var rich = {
  n: { fontSize: 92, fontFamily: serif, color: '#000', padding: [0, 0, 14, 0], verticalAlign: 'bottom' },
  i: { fontSize: 92, fontFamily: serif, fontStyle: 'italic', color: '#000', padding: [0, 0, 14, 0], verticalAlign: 'bottom' },
  sub: { fontSize: 62, fontFamily: serif, color: '#000', verticalAlign: 'bottom' },
  isub: { fontSize: 62, fontFamily: serif, fontStyle: 'italic', color: '#000', verticalAlign: 'bottom' },
  sup: { fontSize: 62, fontFamily: serif, color: '#000', padding: [0, 0, 58, 0], verticalAlign: 'bottom' }
};
function label(x, y, text, rot) {
  return {
    type: 'text', x: x, y: y, rotation: rot || 0, silent: true,
    style: { text: text, rich: rich, fontSize: 92, fontFamily: serif, fill: '#000', align: 'center', verticalAlign: 'middle' }
  };
}

var option = {
  animation: false,
  backgroundColor: '#fff',
  textStyle: { fontFamily: serif },
  legend: {
    data: [bwName, barkerName], left: 350, top: 182, itemWidth: 78, itemHeight: 30, itemGap: 80,
    selectedMode: false, itemStyle: { opacity: 0 },
    lineStyle: { width: 7, type: [22, 14] },
    textStyle: { fontSize: 88, fontFamily: serif, color: '#000', padding: [0, 0, 0, 6] }
  },
  grid: [
    { left: 332, top: 304, width: 2115, height: 1604, show: true, borderColor: '#000', borderWidth: 3.5, backgroundColor: 'transparent', outerBoundsMode: 'none' },
    { left: 332, top: 304, width: 2115, height: 529.5, outerBoundsMode: 'none' },
    { left: 332, top: 833.5, width: 2115, height: 566.5, outerBoundsMode: 'none' },
    { left: 332, top: 1400, width: 2115, height: 508, outerBoundsMode: 'none' },
    { left: 2525, top: 304, width: 1177, height: 532.7, outerBoundsMode: 'none' },
    { left: 2525, top: 900, width: 1177, height: 473.3, outerBoundsMode: 'none' },
    { left: 2525, top: 1440, width: 1177, height: 468, outerBoundsMode: 'none' },
    { left: 2716, top: 256, width: 778, height: 47, outerBoundsMode: 'none' }
  ],
  xAxis: [
    hiddenAxis(0, 0, 1),
    hiddenAxis(1, timeRange[0], timeRange[1], { inverse: true }),
    hiddenAxis(2, timeRange[0], timeRange[1], { inverse: true }),
    {
      gridIndex: 3, type: 'value', min: timeRange[0], max: timeRange[1], interval: 100, inverse: true, position: 'bottom',
      axisLine: { show: false, onZero: false }, splitLine: { show: false },
      axisTick: { show: true, length: 19, lineStyle: tickStyle },
      axisLabel: Object.assign({ margin: 42 }, labelBase)
    },
    hiddenAxis(4, 0, 155),
    hiddenAxis(5, 0, 155),
    {
      gridIndex: 6, type: 'value', min: 0, max: 155, position: 'bottom',
      axisLine: { show: true, onZero: false, lineStyle: { color: '#000', width: 3.5 } }, splitLine: { show: false },
      axisTick: { show: true, customValues: periodTicks, length: 19, lineStyle: tickStyle },
      axisLabel: Object.assign({ customValues: periodTicks, margin: 42 }, labelBase)
    },
    {
      gridIndex: 7, type: 'value', min: -10, max: -4, position: 'top',
      axisLine: { show: false, onZero: false }, splitLine: { show: false },
      axisTick: { show: true, customValues: csTicks, length: 20, lineStyle: tickStyle },
      axisLabel: {
        customValues: csTicks, margin: 28, color: '#000',
        formatter: function (v) { return '{b|10}{s|\u2212' + Math.abs(v) + '}'; },
        rich: {
          b: { fontSize: 90, fontFamily: serif, color: '#000', verticalAlign: 'bottom' },
          s: { fontSize: 62, fontFamily: serif, color: '#000', padding: [0, 0, 46, 0], verticalAlign: 'bottom' }
        }
      }
    }
  ],
  yAxis: [
    hiddenAxis(0, 0, 1),
    leftAxis(1, -29.05, 14.71, [-20, -10, 0], function (v) { return v < 0 ? '\u2212 ' + (-v) : String(v); }),
    leftAxis(2, -764.1, 3000, [0, 1000, 2000, 3000], function (v) { return String(v); }),
    leftAxis(3, 0.003, 1.139, [0.2, 0.5, 0.9], function (v) { return v.toFixed(1); }),
    hiddenAxis(4, -5, 154.8),
    hiddenAxis(5, -5, 137),
    hiddenAxis(6, -4.9, 135.5),
    hiddenAxis(7, 0, 1)
  ],
  graphic: [
    {
      type: 'rect', silent: true, shape: { x: 2712, y: 256, width: 786, height: 47 },
      style: {
        fill: new echarts.graphic.LinearGradient(0, 0, 1, 0, [
          { offset: 0, color: '#800080' }, { offset: 0.25, color: '#4169e1' }, { offset: 0.5, color: '#808000' },
          { offset: 0.75, color: '#ff8c00' }, { offset: 1, color: '#8b0000' }
        ]),
        stroke: '#000', lineWidth: 4
      }
    },
    label(3105, 70, '{i|C}{isub|s}{n| (m  yr}{sup|\u22121}{n|  Pa}{sup|\u22122}{n|)}'),
    label(398, 369, '{n|(a)}'),
    label(378, 920, '{n|c)}'),
    label(376, 1475, '{n|e)}'),
    label(2608, 427, '{n|(b)}'),
    label(2608, 962, '{n|(d)}'),
    label(2597, 1498, '{n|(f)}'),
    label(58, 600, '{i|T}{n| \u2212 }{i|T}{sub|ref}{n| (K)}', Math.PI / 2),
    label(58, 1139, '{i|H}{n| (m)}', Math.PI / 2),
    label(132, 1625, '{i|\u03b1}', Math.PI / 2),
    label(1390, 2088, '{n|Time (kyr BP)}'),
    label(3113, 2088, '{i|P}{n| (kyr)}')
  ],
  series: series
};

var chart = echarts.init(document.getElementById('chart'), null, { renderer: 'canvas' });
chart.setOption(option);
</script>
</body>
</html>
